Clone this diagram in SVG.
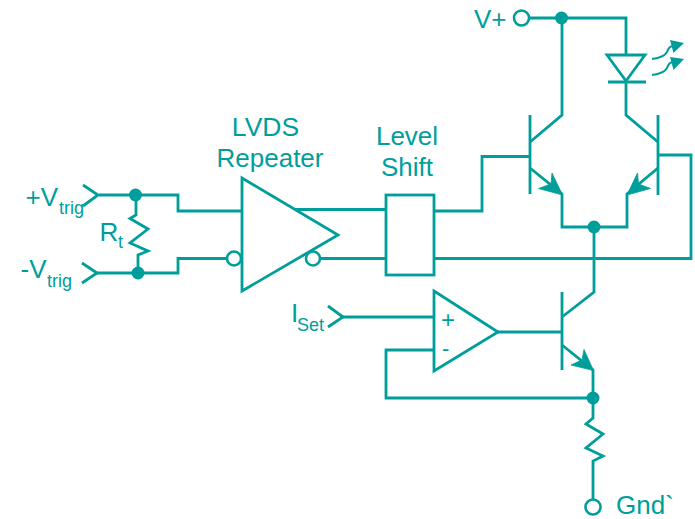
<svg xmlns="http://www.w3.org/2000/svg" width="695" height="519" viewBox="0 0 695 519">
<style>
.w{fill:none;stroke:#009e9b;stroke-width:2.8;stroke-linejoin:miter}
.o{fill:#fff;stroke:#009e9b;stroke-width:2.6}
.d{fill:#009e9b;stroke:none}
.h{fill:#009e9b;stroke:#009e9b;stroke-width:.8}
.t{fill:none;stroke:#009e9b;stroke-width:2}
text{font-family:"Liberation Sans",Arial,sans-serif;fill:#009e9b;font-size:26px}
.s{font-size:18px}
</style>
<rect width="695" height="519" fill="#fff"/>
<g id="connectors">
<path class="w" d="M99 195H178V211H242"/>
<path class="w" d="M97 273H178V258.500H227"/>
<path class="w" d="M136 195V215L130 218.500L148 229L130 243L148 251L138 255V273"/>
<path class="w" d="M295 209.500H386"/>
<path class="w" d="M320 258.500H386"/>
<path class="w" d="M434 211H482V156.500H530"/>
<path class="w" d="M434 258.500H691V155H658"/>
<path class="w" d="M530 18H626V55"/>
<path class="w" d="M562 18V115L530 142"/>
<path class="w" d="M626 82V115L658 142"/>
<path class="w" d="M530 168L562 194V227H627V194L658 168"/>
<path class="w" d="M594 227V292L562 317"/>
<path class="w" d="M343 317H434"/>
<path class="w" d="M498 332H562"/>
<path class="w" d="M562 345L593 370V418L586 424L603 434L586 448L603 456L593 461V499"/>
<path class="w" d="M593 398H386V350H434"/>
</g>
<g id="in-plus"><path class="w" d="M83 185L98 195L83 206"/><circle class="d" cx="135.500" cy="195" r="6.500"/>
<text x="25.500" y="206">+V</text><text class="s" x="59" y="214">trig</text></g>
<g id="in-minus"><path class="w" d="M82 263L97 273L82 283"/><circle class="d" cx="138" cy="273" r="6.500"/>
<text x="20.500" y="278">-V</text><text class="s" x="47" y="287">trig</text></g>
<g id="rt"><text x="99.500" y="241">R</text><text class="s" x="118" y="248">t</text></g>
<g id="repeater"><path class="w" d="M242 178L338 235L242 291Z"/><circle class="o" cx="234" cy="258.500" r="7"/><circle class="o" cx="313" cy="258.500" r="7"/>
<text x="265.500" y="136" text-anchor="middle" style="font-size:26.500px">LVDS</text><text x="270" y="167" text-anchor="middle">Repeater</text></g>
<g id="level-shift"><rect class="w" x="386" y="195" width="48" height="80"/>
<text x="407" y="145" text-anchor="middle">Level</text><text x="407" y="176" text-anchor="middle">Shift</text></g>
<g id="q-left"><path class="w" d="M530 115V194"/><path class="h" d="M562.500 195L552 173L551 184L538.500 188.500Z"/></g>
<g id="q-right"><path class="w" d="M658 115V195"/><path class="h" d="M627 195L637.500 173L638.500 184L650.500 188.500Z"/></g>
<g id="led"><path class="w" d="M607 55H645L626 81Z"/><path class="w" d="M608 82H646"/>
<path class="t" d="M652 59C660 58 665 56 667 52C668 49 669 47 672 46"/><path class="d" d="M684 43L670 40L673.500 53Z"/>
<path class="t" d="M652 75C660 74 665 72 667 68C668 65 669 63 672 62"/><path class="d" d="M684 59L670 57L673.500 70Z"/></g>
<g id="vplus"><circle class="o" cx="521.500" cy="18" r="7.500"/><circle class="d" cx="561.500" cy="18" r="6.500"/><text x="474" y="28">V+</text></g>
<g id="node-tail"><circle class="d" cx="594" cy="227" r="6.500"/></g>
<g id="iset"><path class="w" d="M328 306L343 317L328 327"/><text x="291" y="322">I</text><text class="s" x="297" y="331">Set</text></g>
<g id="opamp"><path class="w" d="M434 291L498 332L434 371Z"/><text x="441" y="328" style="font-size:24px">+</text><text x="442" y="356" style="font-size:22px">-</text></g>
<g id="q-bottom"><path class="w" d="M562 292V370"/><path class="h" d="M593.500 370.500L584 349.500L582 360L571 365Z"/></g>
<g id="node-sense"><circle class="d" cx="593" cy="398" r="6.500"/></g>
<g id="gnd"><circle class="o" cx="593" cy="507" r="7.500"/><text x="616" y="513.500">Gnd`</text></g>
</svg>
